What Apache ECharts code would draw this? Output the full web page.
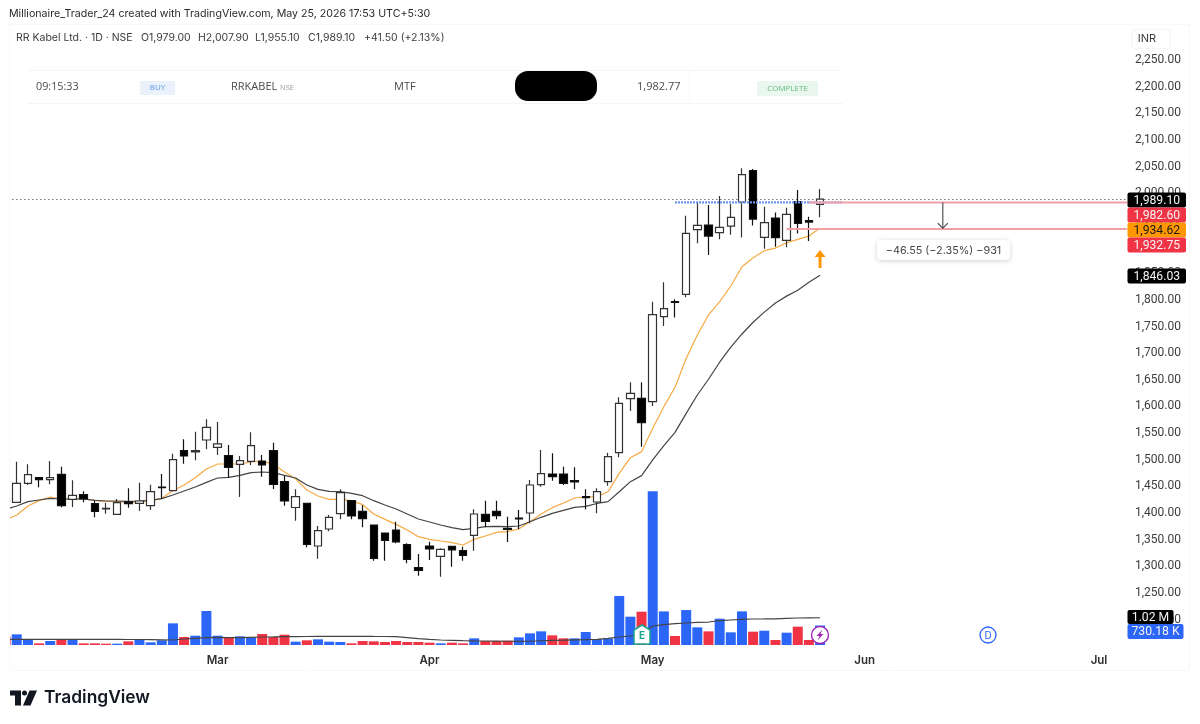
<!DOCTYPE html>
<html><head><meta charset="utf-8">
<style>html,body{margin:0;padding:0;background:#fff}#c{width:1200px;height:724px}</style>
<script src="https://cdn.jsdelivr.net/npm/echarts@6/dist/echarts.min.js"></script>
</head><body><div id="c"></div>
<script>
const monthTicks = {19:'Mar',38:'Apr',58:'May',77:'Jun',98:'Jul'};
const opens  = [1421,1420.1,1455.8,1466.4,1462.6,1472.7,1425.8,1434.5,1417.6,1407.6,1397.6,1420.8,1418.3,1413.9,1448.9,1442,1517.1,1514.6,1537.1,1523.3,1507.7,1491.4,1497,1497.7,1517.1,1458.9,1410.4,
 1418.2,1338.2,1370.1,1398.9,1423.2,1403.2,1377.6,1362.6,1368.2,1340.7,1297.6,1338.2,1318.8,1337.6,1329.4,1358.2,1397.6,1403.2,1371.3,1390.7,1400.1,1453.2,1473.3,1473.3,1460.8,1430.7,1420.7,1458.9,
 1513.3,1614.6,1615.2,1609,1768.4,1796.5,1810.3,1931.6,1940.4,1926,1938.5,1983.5,2042.3,1917.2,1953.5,1911.6,1984.1,1948.5,1979];
const closes = [1429,1455.8,1472,1462.6,1466.4,1413.9,1433.3,1426.4,1403.2,1408.9,1419.5,1417.6,1422.6,1440.1,1447.6,1500.2,1507,1517,1560.8,1529.6,1485.8,1498.3,1526.4,1490.2,1453.9,1422.6,1431,
 1341.3,1367,1392,1438.2,1394.5,1389.5,1315,1348.8,1345.7,1313.2,1292.6,1332.6,1331.9,1330.7,1320.7,1398.2,1384.5,1395.1,1369.5,1388.8,1452.6,1473.9,1468.3,1455.8,1458.3,1428.9,1440.1,1505.8,
 1605.9,1624.6,1569.6,1772.2,1783.4,1795.3,1924.7,1939.7,1919.7,1936,1954.7,2034.8,1951.6,1944.7,1916.6,1960.4,1943.5,1946,1989.1];
const lows   = [1420,1419,1452.6,1448.3,1453.9,1410.8,1411.4,1420.1,1392,1398.9,1396.4,1410.1,1403.9,1405.8,1427,1441,1492.7,1498.9,1519.6,1508.9,1465.8,1430,1490.2,1468.3,1445.1,1413.9,1385.4,
 1335.7,1314.4,1365.7,1388.2,1388.2,1373.2,1310.7,1310.7,1343.2,1305.7,1282.5,1311.9,1280.7,1299.4,1310.7,1329.4,1373.2,1388.2,1345.7,1369.5,1380.7,1449.5,1460.8,1452.6,1444.5,1407,1399.5,1451.4,
 1504.6,1591.5,1524.6,1600.9,1751,1767,1804.7,1906,1884.1,1913.5,1922.2,1917.2,1939.7,1896,1899.7,1898.5,1924.7,1910.3,1955.1];
const highs  = [1430,1496.4,1491.4,1467,1497.7,1487,1461.4,1440.8,1422.6,1418.9,1426.4,1446.4,1457,1453.3,1473.3,1511.4,1538.3,1552.7,1575.8,1570.8,1527.7,1507,1551.4,1508.9,1532,1469.5,1444.5,
 1419.5,1375.7,1396.4,1444.5,1423.2,1414.5,1377.6,1362.6,1383.8,1343.2,1323.2,1346.3,1333.8,1338.2,1336.9,1407,1423.2,1423.2,1393.2,1405.7,1462,1518.3,1512,1487,1485.8,1444.5,1446.3,1513.3,
 1617.1,1645.2,1645.2,1796.6,1832.8,1801,1957.9,1984.1,1977.9,1994.8,1979.8,2046.7,2045.4,1974.8,1964.1,1972.9,2006,1956,2007.9];
const emaFast = [1387,1396.4,1413.3,1423.3,1430.1,1426.4,1426.4,1426.4,1423.9,1422,1421.4,1420.8,1420.8,1423.3,1427.6,1442,1452.6,1466.4,1482.7,1492,1492,1492,1495.8,1497.7,1491.4,1477,1464,
 1443.2,1432,1425.7,1425.7,1423.2,1415.7,1398.2,1388.2,1378.8,1368.2,1355.7,1350.7,1347.6,1344.4,1340,1350.7,1357,1363.8,1365.1,1370.1,1383.8,1398.2,1410.1,1418.9,1428.2,1430.1,1430.8,1440,
 1474.5,1503.9,1515.2,1559,1599.6,1635.9,1690,1734,1771.6,1796.5,1826,1862.2,1879,1892.2,1897.2,1907.2,1913.5,1919.7,1934.62];
const emaSlow = [1407,1413.2,1421.4,1424.5,1427.6,1426.4,1426.4,1426.4,1423.9,1422.6,1422.6,1422,1422.6,1423.9,1427,1433.9,1441.4,1448.9,1457.6,1465.8,1467,1470.8,1475.8,1477,1475.8,1470.8,1465.8,
 1452.6,1444.5,1440.7,1440.1,1437,1432.6,1423.2,1415.1,1407.6,1398.2,1388.8,1383.2,1377.6,1372.6,1368.8,1371.3,1374.5,1375.1,1374.5,1375.7,1383.8,1392,1399.5,1405.1,1410.7,1412.6,1418,1421.4,
 1440,1458.9,1470.2,1499.6,1526.4,1551.4,1587,1621.5,1651,1683,1711.5,1736,1758,1777,1794,1807,1818,1833,1846.03];
const volumes = [312,399,212,62,150,187,187,62,62,50,50,137,187,100,175,811,299,349,1272,349,274,324,287,412,299,387,125,175,212,125,112,62,150,137,112,150,112,112,
 87,62,87,62,249,150,150,162,287,436,511,362,249,249,486,224,249,1833,1060,1247,5760,1259,337,1309,661,511,985,474,1259,499,536,187,461,686,187,730.18];
const volumeUp = [0,1,1,0,1,0,1,0,0,0,1,0,1,1,1,1,0,1,1,1,0,1,1,0,0,0,1,0,1,1,1,0,0,0,0,0,0,0,0,1,0,0,1,0,0,0,1,1,1,0,0,1,1,1,1,1,1,0,1,1,0,1,1,0,1,1,1,0,1,0,1,0,0,1];
const volumeAvg = [205,210,212,212,212,210,210,210,208,208,208,205,205,200,195,187,224,249,274,287,274,274,287,299,305,312,315,318,324,324,324,324,324,320,318,312,274,237,
 210,187,175,162,155,150,145,140,137,140,160,175,180,190,200,212,249,300,337,411,711,761,798,823,848,860,910,935,960,973,975,980,998,1010,1015,1020];
const priceTicksMin = 1150, priceTicksMax = 2250, priceInterval = 50;
const levelStart = [60,72,70], levelEnd = [75,null,null], levelPrice = [1982.77,1982.60,1932.75];
const lastClose = 1989.10;
const rangeArrow = {idx:84, from:1982.60, to:1934.62};
const signalArrow = {idx:73, tip:1893.5, base:1859.7};

const categories = Array.from({length:101},(_, i)=>monthTicks[i]||'');
const candleData = opens.map((o,i)=>[o,closes[i],lows[i],highs[i]]);
const BLUE='#2c66f6', RED='#f03345';
const F='Inter, "Liberation Sans", sans-serif';
const fmt=v=>v.toLocaleString('en-US',{minimumFractionDigits:2,maximumFractionDigits:2});

function txt(x,y,t,o){return Object.assign({type:'text',z:50,x,y,style:Object.assign({text:t,font:'12px '+F,fill:'#3c3c3c',textVerticalAlign:'middle'},o||{})});}
function rect(x,y,w,h,fill,r,extra){return {type:'rect',z:40,shape:{x,y,width:w,height:h,r:r||0},style:Object.assign({fill},extra||{})};}
function line(x1,y1,x2,y2,c,w){return {type:'line',z:30,shape:{x1,y1,x2,y2},style:{stroke:c,lineWidth:w||1}};}
function tag(y,h,w,fill,t,color){return [rect(1127.5,y,w,h,fill,2),txt(1127.5+w/2,y+h/2+.5,t,{fill:color||'#f4f4f4',align:'center',textAlign:'center',font:'12.2px Roboto'})];}

const graphic=[
 rect(0,0,9,724,'#fff'),
 line(9.5,24,9.5,670,'#f8f8f9'),line(9.5,670.5,1189,670.5,'#f8f8f9'),line(1189.5,24,1189.5,670,'#f8f8f9'),line(9,24.5,1189,24.5,'#f8f8f9'),
 txt(9,14,'Millionaire_Trader_24 created with TradingView.com, May 25, 2026 17:53 UTC+5:30',{font:'10.65px '+F,fill:'#2a2a2a'}),
 txt(16,38,'RR Kabel Ltd. · 1D · NSE',{font:'10.5px '+F}),
 txt(141,38,'O1,979.00',{font:'10.5px '+F}),txt(198,38,'H2,007.90',{font:'10.5px '+F}),txt(255,38,'L1,955.10',{font:'10.5px '+F}),txt(308,38,'C1,989.10',{font:'10.5px '+F}),txt(364,38,'+41.50 (+2.13%)',{font:'10.5px '+F}),
 rect(1132,29.5,38,19,'#fff',3,{stroke:'#f4f4f4'}),txt(1147,39,'INR',{font:'11px '+F,align:'center',textAlign:'center'}),
 line(28,70.5,843,70.5,'#f5f5f5'),line(28,103.5,843,103.5,'#f5f5f5'),line(689.5,70,689.5,103,'#f7f7f7'),
 txt(36,87,'09:15:33',{font:'10.8px "Open Sans"',fill:'#4a4a4a'}),
 rect(140,81,35,14,'#e9f1fb',1),txt(157.5,88,'BUY',{font:'8px "Open Sans"',fill:'#5f97e6',align:'center',textAlign:'center'}),
 txt(231,87,'RRKABEL',{font:'11px "Open Sans"',fill:'#4a4a4a'}),txt(280,88,'NSE',{font:'7.5px "Open Sans"',fill:'#9a9a9a'}),
 txt(394,87,'MTF',{font:'11px "Open Sans"',fill:'#4a4a4a'}),
 rect(515,71,82,30,'#000',13),
 txt(637,87,'1,982.77',{font:'11px "Open Sans"',fill:'#4a4a4a'}),
 rect(757,81,61,15,'#e9f7ee',1),txt(787.5,88.5,'COMPLETE',{font:'8px "Open Sans"',fill:'#64b984',align:'center',textAlign:'center'}),
 ...tag(192.5,15,58.5,'#000','1,989.10'),
 ...tag(207.5,15,58.5,RED,'1,982.60'),
 ...tag(222.5,15,58.5,'#ff9800','1,934.62','#1a1a1a'),
 ...tag(237.5,15,58.5,RED,'1,932.75'),
 ...tag(268.5,15,58.5,'#000','1,846.03'),
 ...tag(610,14,46,'#000','1.02 M'),
 ...tag(624,15,56,BLUE,'730.18 K'),
 rect(877,240,133,20,'#fff',4,{shadowBlur:5,shadowColor:'rgba(0,0,0,0.18)',shadowOffsetY:1}),
 txt(943.5,250.5,'−46.55 (−2.35%) −931',{font:'10.8px '+F,fill:'#444',align:'center',textAlign:'center'}),
 {type:'polygon',z:45,shape:{points:[[642,625],[650,630],[650,644],[634,644],[634,630]]},style:{fill:'#fff',stroke:'#18a58f',lineWidth:1.5}},
 txt(642,636,'E',{font:'bold 10px '+F,fill:'#18a58f',align:'center',textAlign:'center'}),
 {type:'circle',z:45,shape:{cx:820,cy:635,r:8.5},style:{fill:'#fff',stroke:'#9c27b0',lineWidth:1.4}},
 {type:'polygon',z:46,shape:{points:[[822.5,629.5],[816.5,636],[819.5,636],[817.5,640.5],[823.5,634],[820.5,634]]},style:{fill:'#9c27b0'}},
 {type:'circle',z:45,shape:{cx:988,cy:635,r:8},style:{fill:'#fff',stroke:'#2962ff',lineWidth:1.3}},
 txt(988,635.5,'D',{font:'10px '+F,fill:'#2962ff',align:'center',textAlign:'center'}),
 {type:'polygon',z:45,shape:{points:[[10,690.5],[21,690.5],[21,705.5],[15,705.5],[15,695.5],[10,695.5]]},style:{fill:'#131722'}},
 {type:'circle',z:45,shape:{cx:24.5,cy:693,r:2.5},style:{fill:'#131722'}},
 {type:'polygon',z:45,shape:{points:[[29.5,690.5],[37,690.5],[30.5,705.5],[23,705.5]]},style:{fill:'#131722'}},
 txt(44,698,'TradingView',{font:'600 17.4px '+F,fill:'#131722'})
];

const lineStyles=[{stroke:'#6d97ea',lineWidth:2.3,lineDash:[2,1]},{stroke:'#f2a0a8',lineWidth:2},{stroke:'#f2a0a8',lineWidth:2}];
const option={
 animation:false,backgroundColor:'#fff',
 grid:[{left:0,top:60,width:1126.9,height:586.3},{left:0,top:450,width:1126.9,height:195}],
 xAxis:[
  {type:'category',gridIndex:0,data:categories,boundaryGap:true,
   axisLine:{show:false},axisTick:{show:false},splitLine:{show:false},
   axisLabel:{show:true,interval:(i,v)=>v!=='',margin:8,color:'#2e2e2e',fontWeight:600,fontSize:11.5,fontFamily:F}},
  {type:'category',gridIndex:1,data:categories,boundaryGap:true,axisLine:{show:false},axisTick:{show:false},axisLabel:{show:false},splitLine:{show:false}}
 ],
 yAxis:[
  {type:'value',gridIndex:0,position:'right',min:priceTicksMin,max:priceTicksMax,interval:priceInterval,scale:true,
   axisLine:{show:false},axisTick:{show:false},splitLine:{show:false},
   axisLabel:{margin:8,color:'#3c3c3c',fontSize:12,fontFamily:'Roboto, '+F,padding:[2,0,0,0],formatter:v=>v<1200?'':fmt(v)}},
  {type:'value',gridIndex:1,min:0,max:7300,show:false,splitLine:{show:false}}
 ],
 series:[
  {type:'bar',name:'Volume',xAxisIndex:1,yAxisIndex:1,barWidth:10,z:1,silent:true,
   data:volumes.map((v,i)=>({value:v,itemStyle:{color:volumeUp[i]?BLUE:RED}}))},
  {type:'line',name:'Volume MA',xAxisIndex:1,yAxisIndex:1,data:volumeAvg,showSymbol:false,z:3,lineStyle:{color:'#444',width:1.2},silent:true},
  {type:'line',name:'EMA fast',data:emaFast,showSymbol:false,z:3,lineStyle:{color:'#f6a944',width:1.2},silent:true},
  {type:'line',name:'EMA slow',data:emaSlow,showSymbol:false,z:3,lineStyle:{color:'#444',width:1.2},silent:true},
  {type:'candlestick',name:'RRKABEL',data:candleData,barWidth:8,z:4,
   itemStyle:{color:'#fff',color0:'#000',borderColor:'#333',borderColor0:'#111',borderWidth:1.2},
   markLine:{silent:true,symbol:'none',z:2,label:{show:false},lineStyle:{color:'#777',type:[1.5,2.5],width:1.2},data:[{yAxis:lastClose}]}},
  {type:'custom',name:'Levels',z:5,silent:true,clip:false,
   data:levelPrice.map((p,i)=>[levelStart[i],p,i]),
   renderItem:(params,api)=>{
     const i=api.value(2);const a=api.coord([levelStart[i],levelPrice[i]]);
     const endX=levelEnd[i]==null?params.coordSys.x+params.coordSys.width:api.coord([levelEnd[i],levelPrice[i]])[0];
     return {type:'line',shape:{x1:a[0],y1:a[1],x2:endX,y2:a[1]},style:lineStyles[i]};
   }},
  {type:'custom',name:'Arrows',z:6,silent:true,clip:false,
   data:[[rangeArrow.idx,rangeArrow.from]],
   renderItem:(params,api)=>{
     const a=api.coord([rangeArrow.idx,rangeArrow.from]),b=api.coord([rangeArrow.idx,rangeArrow.to]);
     const t=api.coord([signalArrow.idx,signalArrow.tip]),s=api.coord([signalArrow.idx,signalArrow.base]);
     return {type:'group',children:[
      {type:'line',shape:{x1:a[0],y1:a[1],x2:b[0],y2:b[1]},style:{stroke:'#444',lineWidth:1.1}},
      {type:'polyline',shape:{points:[[b[0]-5,b[1]-5],[b[0],b[1]],[b[0]+5,b[1]-5]]},style:{stroke:'#444',lineWidth:1.1,fill:null}},
      {type:'line',shape:{x1:t[0],y1:t[1]+3,x2:s[0],y2:s[1]},style:{stroke:'#ff9800',lineWidth:3}},
      {type:'polygon',shape:{points:[[t[0],t[1]],[t[0]+5.5,t[1]+7],[t[0]-5.5,t[1]+7]]},style:{fill:'#ff9800'}}
     ]};
   }}
 ],
 graphic:{elements:graphic}
};
echarts.init(document.getElementById('c'),null,{renderer:'canvas'}).setOption(option);
</script></body></html>
